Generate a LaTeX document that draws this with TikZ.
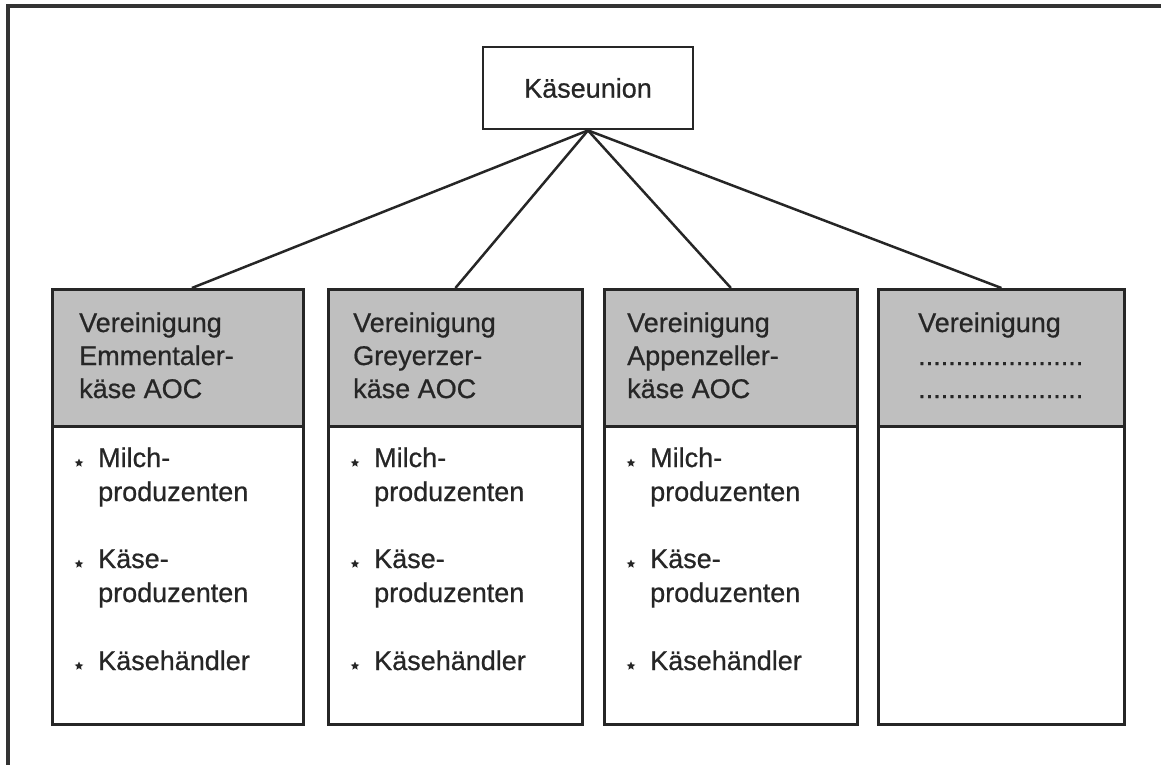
\documentclass[tikz,border=0pt]{standalone}
\usepackage{fontspec}
\setmainfont{Liberation Sans}
\newfontfamily\heavyface[FakeBold=0.7]{Liberation Sans}
\usetikzlibrary{shapes.geometric}
\begin{document}
\begin{tikzpicture}[x=1pt,y=-1pt,
  frame/.style={line width=3.2pt, draw=black!80},
  plainbox/.style={draw=black!85, line width=2.8pt, inner sep=0pt},
  hdr/.style={plainbox, fill=black!25, minimum height=137pt},
  bodybox/.style={plainbox, fill=white, minimum height=298pt},
  conn/.style={draw=black!85, line width=2.5pt},
  txt/.style={inner sep=0pt, text=black!85, font=\heavyface\fontsize{27}{33}\selectfont},
  bullet/.style={star, star points=5, star point ratio=2.2, fill=black!85, inner sep=0pt, minimum size=9pt}]
\useasboundingbox (0,0) rectangle (1161,764);
\begin{scope}
  \clip (0,0) rectangle (1161,764);
  \draw[frame] (8,6) rectangle (1180,790);
\end{scope}
% top node
\node[plainbox, txt, minimum width=210pt, minimum height=82pt, draw=black!85, line width=2.8pt] (k) at (588,88) {Käseunion};
% column boxes
\foreach \i/\l/\w in {1/51/251,2/327/254,3/603/253,4/877/246} {
  \node[hdr, minimum width=\w pt, anchor=north west] (h\i) at (\l,288) {};
  \node[bodybox, minimum width=\w pt, anchor=north west] (b\i) at (\l,425) {};
}
% connectors
\draw[conn] (k.south) -- ([xshift=14pt]h1.north);
\draw[conn] (k.south) -- (h2.north);
\draw[conn] (k.south) -- (h3.north);
\draw[conn] (k.south) -- (h4.north);
% header texts
\foreach \i/\x/\a/\b/\c in {1/79/Vereinigung/Emmentaler-/käse AOC,2/353/Vereinigung/Greyerzer-/käse AOC,3/627/Vereinigung/Appenzeller-/käse AOC} {
  \node[txt, anchor=base west] (ha\i) at (\x,332) {\a};
  \node[txt, anchor=base west] (hb\i) at (\x,365) {\b};
  \node[txt, anchor=base west] (hc\i) at (\x,398) {\c};
}
\node[txt, anchor=base west] (ha4) at (918,332) {Vereinigung};
\node[txt, anchor=base west] (hb4) at (918,365) {......................};
\node[txt, anchor=base west] (hc4) at (918,398) {......................};
% body items
\foreach \i/\l in {1/51,2/327,3/603} {
  \foreach \j/\y/\t in {1/467/Milch-,2/501/produzenten,3/568/Käse-,4/602/produzenten,5/670/Käsehändler} {
    \node[txt, anchor=base west] (m\i\j) at (\l+47,\y) {\t};
  }
  \foreach \j/\y in {1/467,2/568,3/670} {
    \node[bullet] (s\i\j) at (\l+28,\y-4) {};
  }
}
\end{tikzpicture}
\end{document}
